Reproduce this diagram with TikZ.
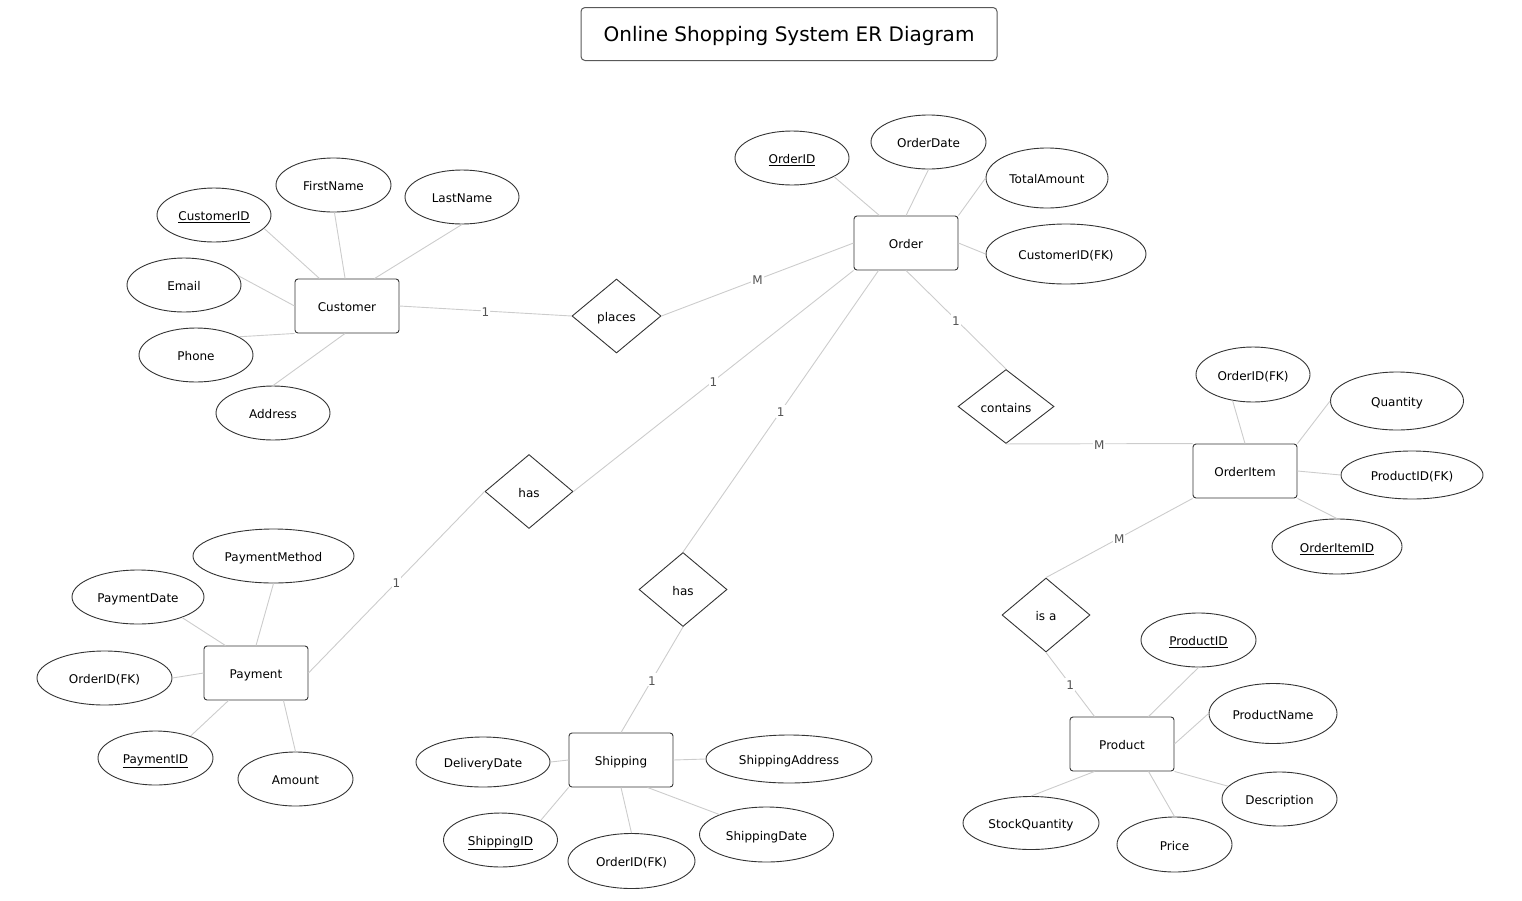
\documentclass[tikz,border=0pt]{standalone}
\usepackage{fontspec}
\setmainfont{DejaVu Sans}
\usetikzlibrary{shapes.geometric}
\definecolor{edgecol}{HTML}{333333}
\definecolor{linecol}{HTML}{CCCCCC}
\definecolor{cardcol}{HTML}{555555}
\tikzset{
  ertitle/.style={draw=black!65, rounded corners=4pt, line width=1pt, minimum width=416pt, minimum height=53pt, inner sep=0pt, font=\fontsize{20}{24}\selectfont, text height=17pt, text depth=2pt},
  erent/.style={draw=edgecol, rounded corners=3pt, line width=0.9pt, minimum width=104pt, minimum height=54pt, inner sep=0pt, font=\fontsize{12}{14}\selectfont, text height=11.4pt, text depth=0pt},
  erattr/.style={draw=edgecol, ellipse, line width=0.9pt, minimum width=114pt, minimum height=54pt, inner sep=0pt, font=\fontsize{12}{14}\selectfont, text height=11.4pt, text depth=0pt},
  errel/.style={draw=edgecol, diamond, line width=0.9pt, minimum width=88pt, minimum height=74pt, inner sep=0pt, font=\fontsize{12}{14}\selectfont, text height=11.4pt, text depth=0pt},
  erconn/.style={draw=linecol, line width=0.9pt},
  ercard/.style={fill=white, inner sep=1pt, text=cardcol, font=\fontsize{12}{14}\selectfont, text height=10.8pt, text depth=0pt},
}
\begin{document}
\begin{tikzpicture}[x=1pt, y=-1pt]
\useasboundingbox (0,0) rectangle (1522,900);

% title
\node[ertitle] (title) at (789,34) {Online Shopping System ER Diagram};

% entities
\node[erent] (cust) at (347,306) {Customer};
\node[erent] (order) at (906,243) {Order};
\node[erent] (oitem) at (1245,471) {OrderItem};
\node[erent] (pay) at (256,673) {Payment};
\node[erent] (ship) at (621,760) {Shipping};
\node[erent] (prod) at (1122,744) {Product};

% relationships
\node[errel, minimum width=89pt] (places) at (616.5,316) {places};
\node[errel, minimum width=96pt] (contains) at (1006,406.5) {contains};
\node[errel] (hasp) at (529,491.5) {has};
\node[errel] (hass) at (683,589.5) {has};
\node[errel] (isa) at (1046,615) {is a};

% customer attributes
\node[erattr] (custid) at (214,215) {\underline{CustomerID}};
\node[erattr, minimum width=115pt] (fname) at (333.5,185) {FirstName};
\node[erattr] (lname) at (462,197) {LastName};
\node[erattr] (email) at (184,285) {Email};
\node[erattr] (phone) at (196,355) {Phone};
\node[erattr] (addr) at (273,413) {Address};

% order attributes
\node[erattr] (orderid) at (792,158) {\underline{OrderID}};
\node[erattr, minimum width=115pt] (odate) at (928.5,142) {OrderDate};
\node[erattr, minimum width=122pt, minimum height=60pt] (total) at (1047,178) {TotalAmount};
\node[erattr, minimum width=160pt, minimum height=60pt] (custfk) at (1066,254) {CustomerID(FK)};

% order item attributes
\node[erattr, minimum height=55pt] (oifk) at (1253,374.5) {OrderID(FK)};
\node[erattr, minimum width=133pt, minimum height=58pt] (qty) at (1397,401) {Quantity};
\node[erattr, minimum width=142pt, minimum height=48pt] (pidfk) at (1412,475) {ProductID(FK)};
\node[erattr, minimum width=130pt, minimum height=55pt] (oiid) at (1337,546.5) {\underline{OrderItemID}};

% payment attributes
\node[erattr, minimum width=161pt] (pmeth) at (273.5,556) {PaymentMethod};
\node[erattr, minimum width=132pt] (pdate) at (138,597) {PaymentDate};
\node[erattr, minimum width=135pt] (pofk) at (104.5,678) {OrderID(FK)};
\node[erattr, minimum width=115pt] (payid) at (155.5,758) {\underline{PaymentID}};
\node[erattr, minimum width=115pt] (amount) at (295.5,779) {Amount};

% shipping attributes
\node[erattr, minimum width=134pt, minimum height=50pt] (deliv) at (483,762) {DeliveryDate};
\node[erattr, minimum width=166pt, minimum height=48pt] (saddr) at (789,759) {ShippingAddress};
\node[erattr] (shipid) at (500.5,840) {\underline{ShippingID}};
\node[erattr, minimum width=127pt, minimum height=55pt] (sofk) at (631.5,861) {OrderID(FK)};
\node[erattr, minimum width=134pt, minimum height=55pt] (sdate) at (766.5,834.5) {ShippingDate};

% product attributes
\node[erattr, minimum width=115pt] (prodid) at (1198.5,640) {\underline{ProductID}};
\node[erattr, minimum width=128pt, minimum height=60pt] (pname) at (1273,713.5) {ProductName};
\node[erattr, minimum width=115pt] (desc) at (1279.5,799) {Description};
\node[erattr, minimum width=136pt, minimum height=53pt] (stock) at (1031,823) {StockQuantity};
\node[erattr, minimum width=115pt, minimum height=55pt] (price) at (1174.5,844.5) {Price};

% customer attribute links
\draw[erconn] (custid.-15) -- (cust.135);
\draw[erconn] (fname.-88) -- (cust.94);
\draw[erconn] (lname.south) -- (cust.45);
\draw[erconn] (email.10) -- (cust.west);
\draw[erconn] (phone.23) -- (cust.south west);
\draw[erconn] (addr.north) -- (cust.266);

% order attribute links
\draw[erconn] (orderid.-24) -- (order.134);
\draw[erconn] (odate.south) -- (order.north);
\draw[erconn] (total.west) -- (order.north east);
\draw[erconn] (custfk.west) -- (order.east);

% order item attribute links
\draw[erconn] (oifk.232) -- (oitem.north);
\draw[erconn] (qty.west) -- (oitem.north east);
\draw[erconn] (pidfk.west) -- (oitem.east);
\draw[erconn] (oiid.north) -- (oitem.south east);

% payment attribute links
\draw[erconn] (pmeth.south) -- (pay.north);
\draw[erconn] (pdate.-25) -- (pay.138);
\draw[erconn] (pofk.east) -- (pay.west);
\draw[erconn] (payid.32) -- (pay.225);
\draw[erconn] (amount.north) -- (pay.315);

% shipping attribute links
\draw[erconn] (deliv.east) -- (ship.west);
\draw[erconn] (saddr.west) -- (ship.east);
\draw[erconn] (shipid.26) -- (ship.south west);
\draw[erconn] (sofk.north) -- (ship.south);
\draw[erconn] (sdate.157) -- (ship.314);

% product attribute links
\draw[erconn] (prodid.south) -- (prod.46);
\draw[erconn] (pname.west) -- (prod.east);
\draw[erconn] (desc.166) -- (prod.south east);
\draw[erconn] (stock.north) -- (prod.225);
\draw[erconn] (price.north) -- (prod.314);

% relationship links with cardinalities
\draw[erconn] (cust.east) -- node[ercard] {1} (places.west);
\draw[erconn] (places.east) -- node[ercard] {M} (order.west);
\draw[erconn] (order.south) -- node[ercard] {1} (contains.north);
\draw[erconn] (contains.south) -- node[ercard] {M} (oitem.north west);
\draw[erconn] (order.south west) -- node[ercard] {1} (hasp.east);
\draw[erconn] (hasp.west) -- node[ercard] {1} (pay.east);
\draw[erconn] (order.225) -- node[ercard] {1} (hass.north);
\draw[erconn] (hass.south) -- node[ercard] {1} (ship.north);
\draw[erconn] (oitem.south west) -- node[ercard] {M} (isa.north);
\draw[erconn] (isa.south) -- node[ercard] {1} (prod.135);
\end{tikzpicture}
\end{document}
